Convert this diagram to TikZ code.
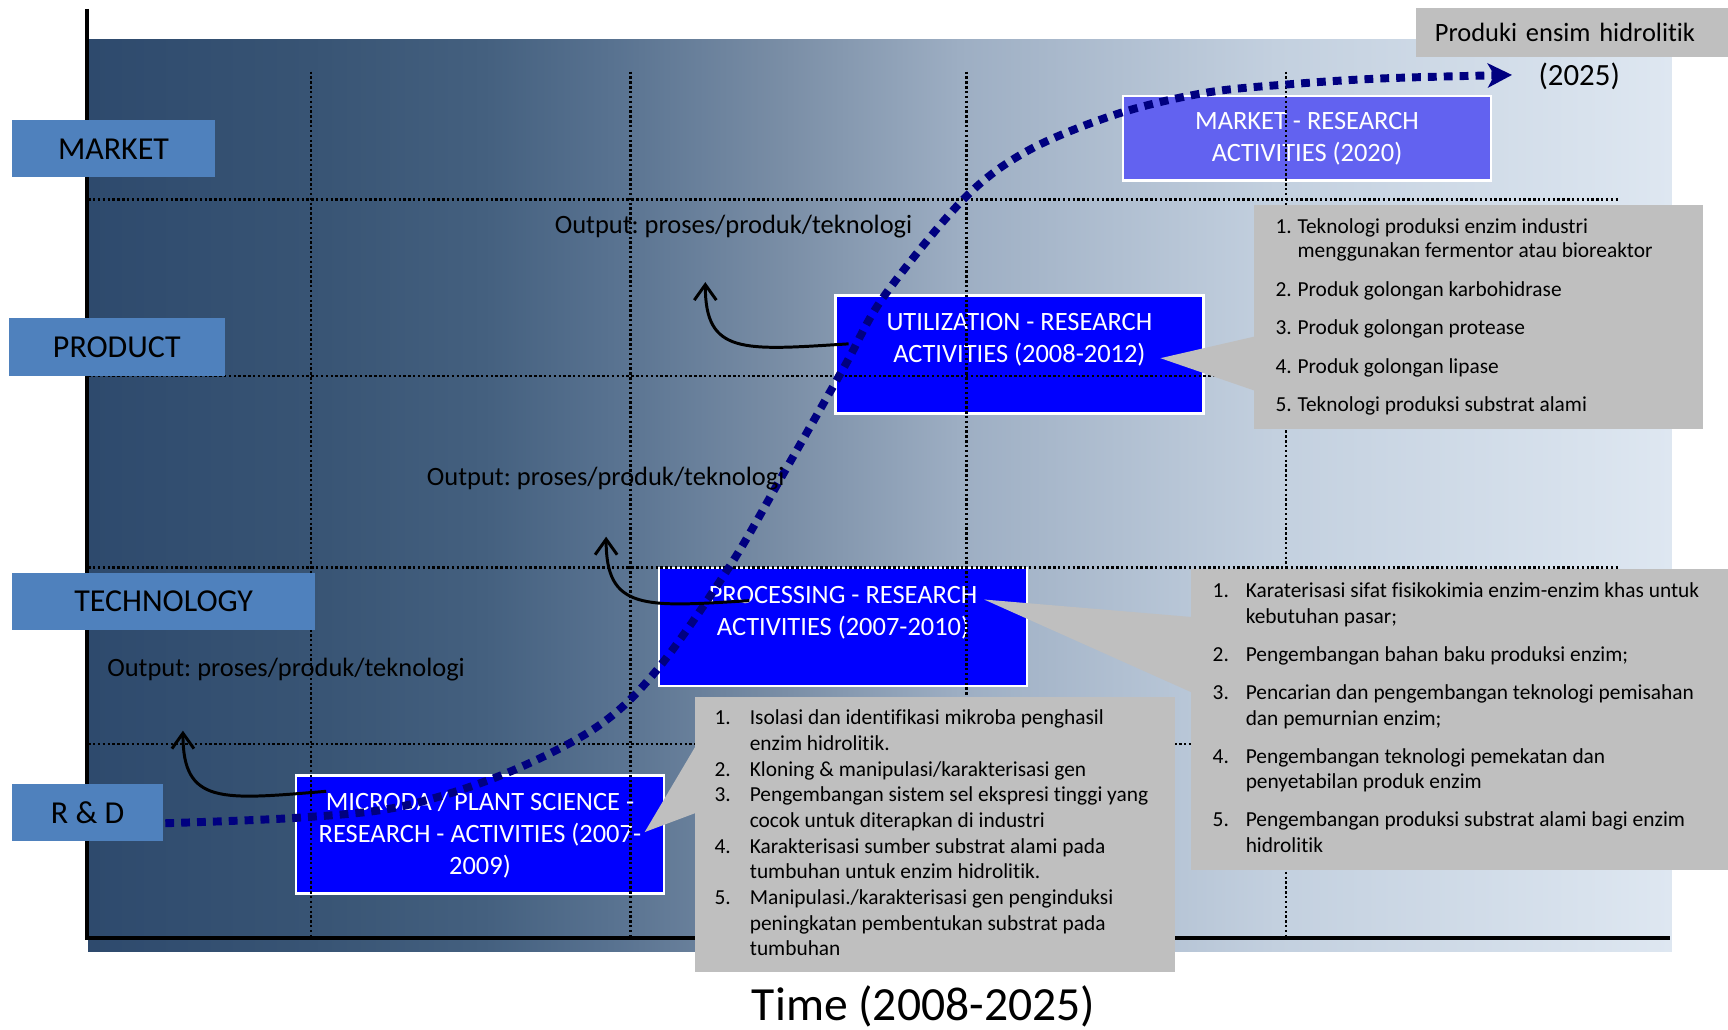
\documentclass[tikz,border=0pt]{standalone}
\usepackage{fontspec}
\setmainfont{Carlito}[Ligatures=NoCommon]
\usetikzlibrary{arrows.meta,fit}
\frenchspacing
\definecolor{g0}{HTML}{2E4A6D}
\definecolor{g1}{HTML}{385474}
\definecolor{g2}{HTML}{44607F}
\definecolor{g3}{HTML}{587290}
\definecolor{g4}{HTML}{7A8EA6}
\definecolor{g5}{HTML}{9DAEC3}
\definecolor{g6}{HTML}{C3D0DF}
\definecolor{g7}{HTML}{DEE7F1}
\definecolor{labblue}{HTML}{4F81BD}
\definecolor{calloutgray}{HTML}{BFBFBF}
\definecolor{curvenavy}{HTML}{000080}
\definecolor{mktblue}{HTML}{6262F0}
\definecolor{boxblue}{HTML}{0000FF}
\pgfdeclarehorizontalshading{bgshade}{100bp}{color(0bp)=(g0); color(25bp)=(g0); color(32bp)=(g1); color(37.5bp)=(g2); color(41.5bp)=(g3); color(47bp)=(g4); color(52.5bp)=(g5); color(62.5bp)=(g6); color(75bp)=(g7); color(100bp)=(g7)}
\begin{document}
\frenchspacing
\begin{tikzpicture}[x=0.5pt,y=-0.5pt,
  lab/.style={fill=labblue, inner sep=0pt, text=black, minimum height=26pt, font=\fontsize{14.5}{17}\selectfont\frenchspacing},
  bluebox/.style={fill=boxblue, draw=white, line width=1.25pt, inner sep=0pt, text=white, align=center, minimum width=167pt, minimum height=53.5pt, font=\fontsize{12}{14.5}\selectfont},
  gridline/.style={black, line width=1.1pt, dash pattern=on 1.1pt off 1.1pt},
  axisline/.style={black, line width=2pt},
  graybox/.style={fill=calloutgray, inner sep=0pt},
  listtext/.style={anchor=north west, inner sep=0pt, text=black, align=left},
  outtxt/.style={anchor=west, inner sep=0pt, text=black, font=\fontsize{12}{14}\selectfont\frenchspacing},
  bendarrow/.style={black, line width=1.35pt, -{Straight Barb[length=7pt,width=10pt]}},
  navycurve/.style={curvenavy, line width=3.6pt, dash pattern=on 4pt off 3.2pt, -{Stealth[length=11pt,width=11pt,inset=3pt]}}
]
\useasboundingbox (0,0) rectangle (1568,934);
% background
\shade[shading=bgshade] (80,36) rectangle (1517,863);
% axes
\draw[axisline] (79,8) -- (79,851) -- (1515,851);
% blue boxes
\node[bluebox] (micro) at (435.5,757.5) {MICRODA / PLANT SCIENCE -\\RESEARCH - ACTIVITIES (2007-\\2009)};
\node[bluebox] (proc) at (765,569) {PROCESSING - RESEARCH\\ACTIVITIES (2007-2010)\\\mbox{}};
\node[bluebox] (util) at (925,321.5) {UTILIZATION - RESEARCH\\ACTIVITIES (2008-2012)\\\mbox{}};
\node[bluebox, fill=mktblue, minimum height=38.5pt] (mkt) at (1186,125.5) {MARKET - RESEARCH\\ACTIVITIES (2020)};
% grid
\foreach \yy in {181,341,515,675} \draw[gridline] (80,\yy) -- (1470,\yy);
\foreach \xx in {282,572,877,1167} \draw[gridline] (\xx,65) -- (\xx,851);
% navy S-curve
\coordinate (c0) at (150,747);
\coordinate (c1) at (270,742);
\coordinate (c2) at (363,732);
\coordinate (c3) at (456,703);
\coordinate (c4) at (541,660);
\coordinate (c5) at (596,608);
\coordinate (c6) at (662,514);
\coordinate (c7) at (713,426);
\coordinate (c8) at (766,333);
\coordinate (c9) at (802,269);
\coordinate (c10) at (875,180);
\coordinate (c11) at (934,136);
\coordinate (c12) at (1015,103);
\coordinate (c13) at (1095,84);
\coordinate (c14) at (1176,76);
\coordinate (c15) at (1258,71);
\coordinate (c16) at (1372,68);
\draw[navycurve] plot[smooth, tension=0.55] coordinates {(c0) (c1) (c2) (c3) (c4) (c5) (c6) (c7) (c8) (c9) (c10) (c11) (c12) (c13) (c14) (c15) (c16)};
% black output arrows
\coordinate (a1s) at (296,718);
\coordinate (a1e) at (166,663);
\coordinate (a2s) at (680,545);
\coordinate (a2e) at (550,487);
\coordinate (a3s) at (770,312);
\coordinate (a3e) at (640,256);
\draw[bendarrow] (a1s) .. controls (200,726) and (166,730) .. (a1e);
\draw[bendarrow] (a2s) .. controls (584,551) and (550,554) .. (a2e);
\draw[bendarrow] (a3s) .. controls (674,318) and (640,322) .. (a3e);
% gray callouts
\node[graybox, fit={(1138,186) (1545,389)}] (plist) {};
\fill[calloutgray] (1140,305) -- (1053,325) -- (1140,355) -- cycle;
\node[graybox, fit={(1081,516) (1568,789)}] (tlist) {};
\fill[calloutgray] (1083,560) -- (893,544) -- (1083,629) -- cycle;
\node[graybox, fit={(631,632) (1066,882)}] (rlist) {};
\fill[calloutgray] (633,674) -- (585,755) -- (633,737) -- cycle;
\node[graybox, minimum width=141.5pt, minimum height=22.5pt, text width=124.5pt, inner xsep=8.5pt, align=left, font=\fontsize{12}{14}\selectfont] (prodbox) at (1426.5,29.5) {Produki ensim hidrolitik};
\node[inner sep=0pt, font=\fontsize{14}{16}\selectfont] (yr) at (1433,69) {(2025)};
% list texts
\node[listtext, font=\fontsize{9.7}{11}\selectfont] (ptext) at (1157,196) {\begin{tabular}{@{}p{10pt}@{}l@{}}
1. & Teknologi produksi enzim industri\\
   & menggunakan fermentor atau bioreaktor\\[6.5pt]
2. & Produk golongan karbohidrase\\[6.5pt]
3. & Produk golongan protease\\[6.5pt]
4. & Produk golongan lipase\\[6.5pt]
5. & Teknologi produksi substrat alami
\end{tabular}};
\node[listtext, font=\fontsize{9.7}{11.75}\selectfont] (ttext) at (1100,525) {\begin{tabular}{@{}p{15pt}@{}l@{}}
1. & Karaterisasi sifat fisikokimia enzim-enzim khas untuk\\
   & kebutuhan pasar;\\[5.5pt]
2. & Pengembangan bahan baku produksi enzim;\\[5.5pt]
3. & Pencarian dan pengembangan teknologi pemisahan\\
   & dan pemurnian enzim;\\[5.5pt]
4. & Pengembangan teknologi pemekatan dan\\
   & penyetabilan produk enzim\\[5.5pt]
5. & Pengembangan produksi substrat alami bagi enzim\\
   & hidrolitik
\end{tabular}};
\node[listtext, font=\fontsize{9.7}{11.65}\selectfont] (rtext) at (648,641) {\begin{tabular}{@{}p{16pt}@{}l@{}}
1. & Isolasi dan identifikasi mikroba penghasil\\
   & enzim hidrolitik.\\
2. & Kloning \& manipulasi/karakterisasi gen\\
3. & Pengembangan sistem sel ekspresi tinggi yang\\
   & cocok untuk diterapkan di industri\\
4. & Karakterisasi sumber substrat alami pada\\
   & tumbuhan untuk enzim hidrolitik.\\
5. & Manipulasi./karakterisasi gen penginduksi\\
   & peningkatan pembentukan substrat pada\\
   & tumbuhan
\end{tabular}};
% left labels
\node[lab, minimum width=92pt] (lmarket) at (103,135) {MARKET};
\node[lab, minimum width=98pt, minimum height=26.5pt] (lproduct) at (106,315) {PRODUCT};
\node[lab, minimum width=137.5pt] (ltech) at (148.5,546) {TECHNOLOGY};
\node[lab, minimum width=68.5pt] (lrd) at (79.5,737) {R \& D};
% output texts
\node[outtxt] (out1) at (503,206) {Output: proses/produk/teknologi};
\node[outtxt] (out2) at (387,434) {Output: proses/produk/teknologi};
\node[outtxt] (out3) at (97,608) {Output: proses/produk/teknologi};
% time axis label
\node[inner sep=0pt, font=\fontsize{21.6}{25}\selectfont] (time) at (838,913) {Time (2008-2025)};
\end{tikzpicture}
\end{document}
